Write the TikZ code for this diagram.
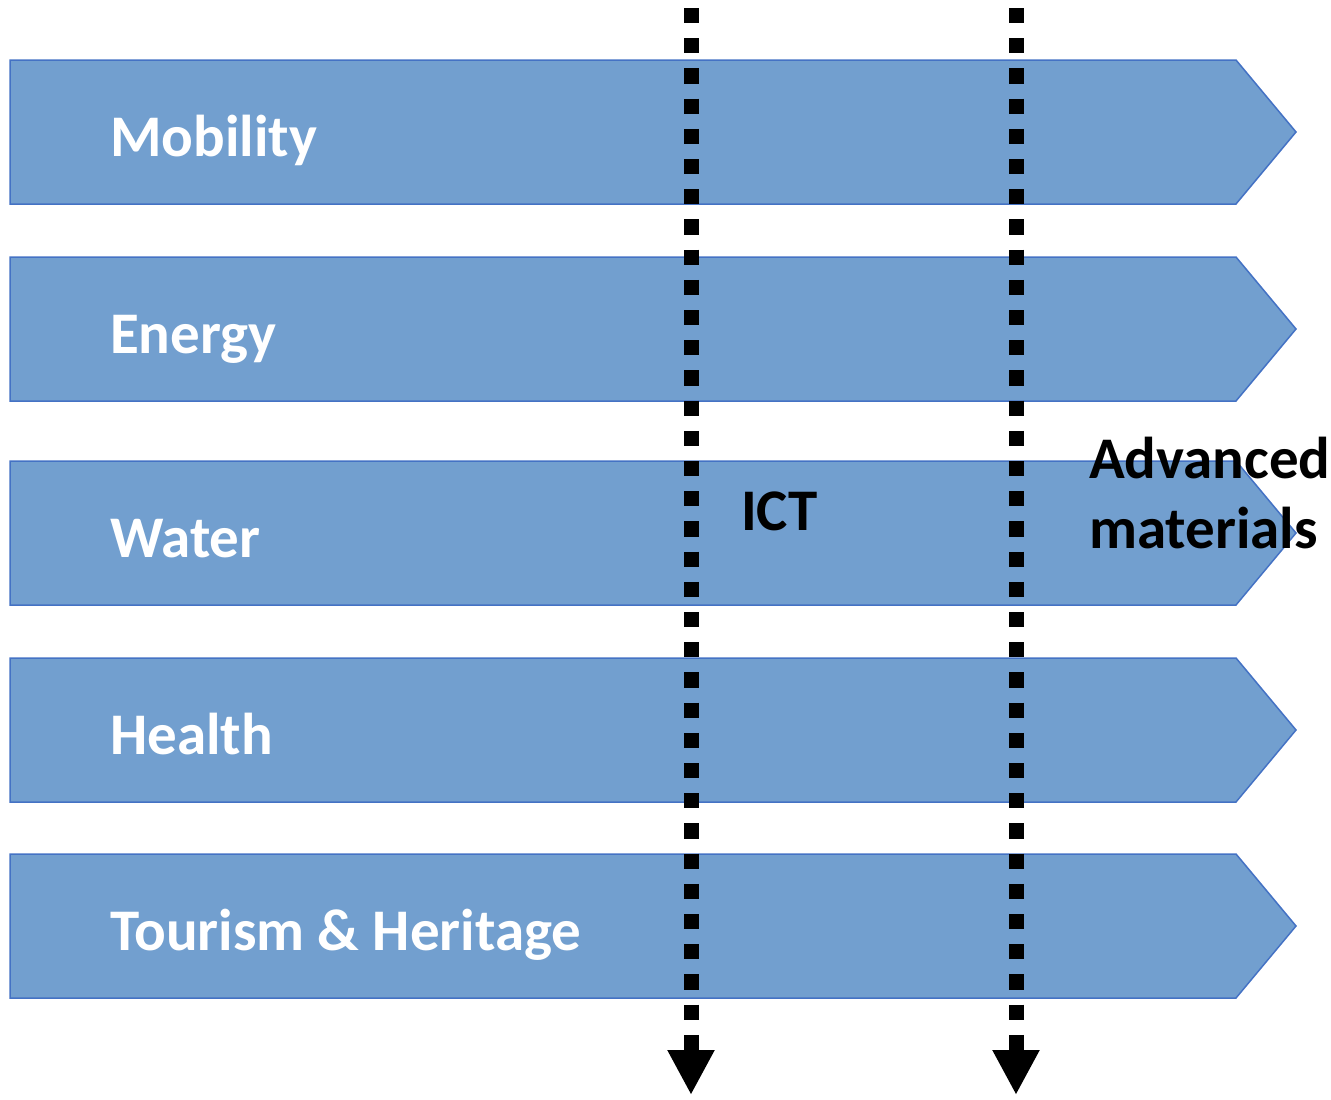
\documentclass[tikz,border=0pt]{standalone}
\usepackage{fontspec}
\setmainfont{Carlito}
\usetikzlibrary{arrows.meta}
\definecolor{chevfill}{RGB}{114,159,207}
\definecolor{chevline}{RGB}{68,114,196}
\tikzset{
  chev/.style={fill=chevfill,draw=chevline,line width=1.5pt,line join=miter},
  rowlabel/.style={anchor=base west,inner sep=0pt,text=white,font=\fontsize{59}{70}\selectfont\bfseries},
  collabel/.style={anchor=base west,inner sep=0pt,text=black,font=\fontsize{59}{70}\selectfont\bfseries},
  dotline/.style={line width=15pt,dash pattern=on 15.1pt off 15.1pt,
    -{Triangle[width=44pt,length=45pt]}}
}
\begin{document}
\begin{tikzpicture}[x=1pt,y=-1pt]
\useasboundingbox (0,0) rectangle (1331,1100);
\foreach \m in {132,329,533,730,926}{
  \draw[chev] (10,\m-72) -- (1236,\m-72) -- (1296,\m) -- (1236,\m+72) -- (10,\m+72) -- cycle;
}
\node[rowlabel] (mob) at (110,156) {Mobility};
\node[rowlabel] (ene) at (110,353) {Energy};
\node[rowlabel] (wat) at (110,557) {Water};
\node[rowlabel] (hea) at (110,754) {Health};
\node[rowlabel] (tou) at (110,950) {Tourism \& Heritage};
\coordinate (icttop) at (691,8);
\coordinate (ictbot) at (691,1095);
\coordinate (amtop) at (1016,8);
\coordinate (ambot) at (1016,1095);
\draw[dotline] (icttop) -- (ictbot);
\draw[dotline] (amtop) -- (ambot);
\node[collabel] (ict) at (741,530) {ICT};
\node[collabel] (adv) at (1089,478) {Advanced};
\node[collabel] (mat) at (1089,548) {materials};
\end{tikzpicture}
\end{document}
